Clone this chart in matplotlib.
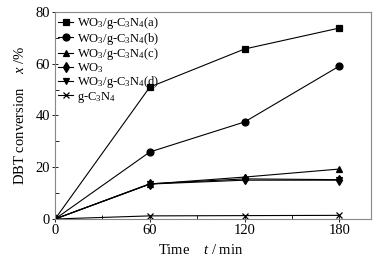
import numpy as np
import matplotlib.pyplot as plt
from matplotlib.ticker import MultipleLocator

plt.rcParams['font.family'] = 'Liberation Serif'
plt.rcParams['mathtext.fontset'] = 'custom'
plt.rcParams['mathtext.rm'] = 'Liberation Serif'
plt.rcParams['mathtext.it'] = 'Liberation Serif:italic'

time = [0, 60, 120, 180]
conv_a = [0, 51.0, 65.7, 73.8]
conv_b = [0, 25.9, 37.5, 59.1]
conv_c = [0, 13.5, 16.2, 19.3]
conv_wo3 = [0, 13.6, 15.5, 15.2]
conv_d = [0, 13.5, 15.0, 15.0]
conv_cn = [0, 1.2, 1.3, 1.4]

labels = ['WO$_3$/g-C$_3$N$_4$(a)', 'WO$_3$/g-C$_3$N$_4$(b)', 'WO$_3$/g-C$_3$N$_4$(c)',
          'WO$_3$', 'WO$_3$/g-C$_3$N$_4$(d)', 'g-C$_3$N$_4$']
markers = ['s', 'o', '^', 'd', 'v', 'x']
series = [conv_a, conv_b, conv_c, conv_wo3, conv_d, conv_cn]

fig = plt.figure(figsize=(3.88, 2.61), dpi=100)
ax = fig.add_axes([0.142, 0.161, 0.814, 0.793])

for y, m, lab in zip(series, markers, labels):
    ax.plot(time, y, color='black', lw=0.8, marker=m, ms=5, mew=0.9, label=lab)

ax.set_xlim(0, 200)
ax.set_ylim(0, 80)
ax.set_xticks([0, 60, 120, 180])
ax.xaxis.set_minor_locator(MultipleLocator(30))
ax.set_yticks([0, 20, 40, 60, 80])
ax.yaxis.set_minor_locator(MultipleLocator(10))
ax.tick_params(which='major', direction='inout', length=5, width=0.6, labelsize=10.5, pad=1)
ax.tick_params(which='minor', direction='in', length=3, width=0.6)
for s in ax.spines.values():
    s.set_color('#888888')
    s.set_linewidth(0.8)

ax.set_xlabel('Time    $t$ / min', fontsize=10.5)
ax.xaxis.set_label_coords(0.46, -0.115)
ax.set_ylabel('DBT conversion    $x$ /%', fontsize=10.5)
ax.yaxis.set_label_coords(-0.088, 0.5)

leg = ax.legend(loc='upper left', frameon=False, fontsize=9, handlelength=1.2,
                handletextpad=0.3, labelspacing=-0.05, borderaxespad=0.1,
                borderpad=0.15)

fig.savefig('out.png', dpi=100)
